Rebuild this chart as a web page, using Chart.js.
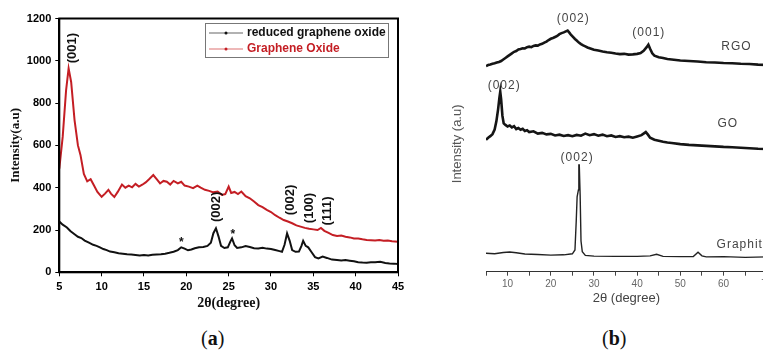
<!DOCTYPE html>
<html>
<head>
<meta charset="utf-8">
<script src="https://cdn.jsdelivr.net/npm/chart.js@4.4.0/dist/chart.umd.min.js"></script>
<style>
  html, body { margin:0; padding:0; background:#fff; width:763px; height:359px; overflow:hidden; position:relative; }
  #wrapA { position:absolute; left:0; top:0; width:420px; height:320px; }
  #wrapB { position:absolute; left:440px; top:0; width:340px; height:320px; }
  .cap { position:absolute; top:327px; font:20px "Liberation Serif", serif; color:#111; }
  .cap b { font-weight:bold; }
</style>
</head>
<body>
<div id="wrapA"><canvas id="chartA" width="420" height="320"></canvas></div>
<div id="wrapB"><canvas id="chartB" width="340" height="320"></canvas></div>
<div class="cap" style="left:201px">(<b>a</b>)</div>
<div class="cap" style="left:602px">(<b>b</b>)</div>
<script>
/* ── PANEL (a) DATA ── */
const angleRGO = [5.0,5.4,5.9,6.3,6.8,7.2,7.6,8.0,8.5,9.0,9.4,9.8,10.2,10.6,11.0,11.5,12.0,12.5,13.0,13.5,14.0,14.5,15.0,15.5,16.0,16.5,17.0,17.5,18.0,18.5,19.0,19.4,19.8,20.2,20.6,21.0,21.5,22.0,22.5,22.9,23.2,23.5,23.8,24.1,24.5,24.9,25.2,25.4,25.7,26.0,26.5,27.0,27.5,28.0,28.5,29.0,29.5,30.0,30.5,31.0,31.3,31.6,31.9,32.2,32.5,32.9,33.3,33.6,33.8,34.1,34.4,34.8,35.2,35.6,36.1,36.6,37.2,37.8,38.3,38.8,39.3,39.8,40.3,40.8,41.3,41.8,42.3,42.9,43.5,44.0,44.5,45.0];
const intRGO   = [240,225,212,195,180,168,162,150,140,130,125,118,110,105,98,95,90,88,85,84,82,80,82,80,83,84,85,88,92,97,105,118,112,104,108,114,118,120,125,140,185,208,170,125,115,118,145,160,128,115,118,124,120,114,113,116,112,110,105,100,97,130,184,150,105,97,98,125,149,125,118,95,72,66,74,68,60,58,56,58,55,52,48,46,45,47,48,50,44,42,41,39];

const angleGO = [5.0,5.4,5.8,6.1,6.4,6.8,7.2,7.5,7.9,8.3,8.7,9.1,9.5,10.0,10.4,10.8,11.1,11.5,11.9,12.4,12.8,13.2,13.6,14.0,14.4,14.8,15.2,15.6,16.1,16.5,16.9,17.3,17.7,18.1,18.5,19.0,19.4,19.8,20.3,20.8,21.3,21.7,22.2,22.7,23.2,23.7,24.2,24.6,25.0,25.3,25.7,26.1,26.5,27.0,27.5,28.0,28.5,29.0,29.5,30.0,30.5,31.0,31.5,32.0,32.5,33.0,33.5,34.0,34.5,35.0,35.5,35.9,36.3,36.8,37.3,37.8,38.3,38.8,39.3,39.8,40.3,40.8,41.3,41.8,42.3,42.8,43.3,43.8,44.3,45.0];
const intGO   = [490,640,860,964,900,720,600,555,465,430,440,410,380,357,372,390,372,356,380,415,400,410,402,418,405,414,425,440,460,440,420,432,428,415,432,420,428,410,405,398,410,400,390,385,378,382,366,370,405,375,380,370,382,360,350,335,318,308,295,285,270,258,247,240,232,222,216,210,206,203,200,210,196,186,176,172,174,168,165,160,160,156,153,152,150,153,149,150,147,145];

const seriesNamesA = ["reduced graphene oxide", "Graphene Oxide"];
const peakLabelsA  = [["(001)",6.5,1060],["(002)",23.6,309],["(002)",32.3,342],["(100)",34.5,304],["(111)",36.7,290]];
const starLabelsA  = [["*",19.4,152],["*",25.5,191]];

/* ── PANEL (b) DATA ── */
const angleRGOb = [5.0,5.5,6.0,6.5,7.0,7.5,8.0,8.5,9.0,9.5,10.0,10.5,11.0,11.5,12.0,12.5,13.0,13.5,14.0,14.5,15.0,15.5,16.0,16.5,17.0,17.5,18.0,18.5,19.0,19.5,20.0,20.5,21.0,21.5,22.0,22.5,23.0,23.5,23.9,24.3,24.7,25.2,25.6,26.0,26.5,27.0,27.5,28.0,28.5,29.0,29.5,30.0,31.0,32.0,33.0,34.0,35.0,36.0,37.0,38.0,39.0,40.0,40.8,41.5,42.2,42.6,43.0,43.5,44.0,45.0,46.0,47.0,48.0,49.0,50.0,52.0,54.0,56.0,58.0,60.0,62.0,64.0,66.0,68.0,70.0];
const intRGOb   = [80.4,80.8,81.0,81.3,81.5,81.8,82.0,82.4,83.0,83.6,84.2,84.8,85.4,86.0,86.3,86.9,87.1,87.4,87.3,87.8,88.0,87.8,88.3,88.5,88.4,88.9,89.1,89.6,90.0,90.6,91.1,91.4,91.8,92.2,92.9,93.3,93.6,94.0,94.3,93.5,92.6,91.7,91.0,90.4,89.6,89.0,88.5,88.1,87.7,87.4,87.1,86.8,86.5,86.1,85.8,85.6,85.3,85.1,85.2,84.9,85.0,85.2,85.5,86.4,87.8,88.8,87.2,85.4,84.5,83.9,83.6,83.2,83.0,82.8,82.6,82.4,82.2,81.9,81.8,81.6,81.5,81.3,81.2,81.0,80.9];

const angleGOb = [5.0,5.5,6.0,6.5,7.0,7.4,7.8,8.1,8.3,8.5,8.8,9.1,9.5,10.0,10.5,11.0,11.5,12.0,12.5,13.0,13.5,14.0,14.5,15.0,16.0,17.0,18.0,19.0,20.0,21.0,22.0,23.0,24.0,25.0,26.0,27.0,28.0,29.0,30.0,31.0,32.0,33.0,34.0,35.0,36.0,37.0,38.0,39.0,40.0,41.0,42.0,42.5,43.0,44.0,45.0,46.0,47.0,48.0,50.0,52.0,54.0,56.0,58.0,60.0,62.0,64.0,66.0,68.0,70.0];
const intGOb   = [51.6,52.4,53.0,53.8,55.6,58.8,63.5,68.0,70.4,67.5,61.0,58.0,57.4,56.8,57.2,56.4,56.9,55.8,56.2,55.5,55.9,55.0,55.3,54.6,54.9,54.0,54.3,53.7,53.9,53.3,53.6,53.1,53.4,53.0,53.5,53.2,54.0,53.4,53.8,53.2,53.6,53.0,53.3,52.7,53.0,52.6,52.8,52.4,52.9,53.4,54.6,53.6,52.4,51.6,51.2,50.8,50.5,50.3,49.9,49.6,49.4,49.2,49.0,48.8,48.7,48.5,48.3,48.1,48.0];

const angleGraphite = [5,7,9,10.5,12,14,17,20,23,25,25.6,25.9,26.1,26.4,26.5,26.6,26.8,27.0,27.3,28,30,35,40,43,44.5,46,50,53,54.1,55,56,60,65,70];
const intGraphite   = [7.2,7.0,7.5,7.7,7.4,6.9,6.7,6.5,6.6,7.0,8.5,20,29.3,32,41.7,41.7,30,12,7.8,6.4,6.1,6.0,6.0,6.2,6.8,6.0,5.9,5.9,7.6,6.2,5.8,5.9,5.6,5.8];

const textLabelsB = [["(002)",25.2,98.8,"center"],["(001)",42.7,93.4,"center"],["RGO",63.0,87.9,"center"],
                     ["(002)",9.2,72.6,"center"],["GO",61.0,57.8,"center"],
                     ["(002)",26.1,44.5,"center"],["Graphite",58.4,10.4,"left"]];

const pts = (xs, ys) => xs.map((x, i) => ({ x, y: ys[i] }));
const SANS = "Arial, 'Liberation Sans', sans-serif";
const SERIF = "'Liberation Serif', 'Times New Roman', serif";

/* ── PLUGINS ── */
const frameA = {
  id: "frameA",
  afterDatasetsDraw(chart) {
    const { ctx, chartArea: a, scales: { x, y } } = chart;
    ctx.save();
    ctx.strokeStyle = "#000"; ctx.lineWidth = 2;
    ctx.strokeRect(a.left, a.top, a.right - a.left, a.bottom - a.top);

    // peak labels, rotated
    ctx.fillStyle = "#111";
    ctx.font = "bold 13px " + SANS;
    ctx.textAlign = "center"; ctx.textBaseline = "middle";
    peakLabelsA.forEach(([t, px, py]) => {
      ctx.save();
      ctx.translate(x.getPixelForValue(px), y.getPixelForValue(py));
      ctx.rotate(-Math.PI / 2);
      ctx.fillText(t, 0, 0);
      ctx.restore();
    });
    ctx.font = "bold 12px " + SANS;
    starLabelsA.forEach(([t, px, py]) => ctx.fillText(t, x.getPixelForValue(px), y.getPixelForValue(py) + 3));

    // legend box
    const lx = 205, ly = 23, lw = 183, lh = 34;
    ctx.lineWidth = 1; ctx.strokeStyle = "#777";
    ctx.strokeRect(lx + 0.5, ly + 0.5, lw, lh);
    const rows = [{ c: "#111", l: "#999", y: ly + 10 }, { c: "#c41e24", l: "#e8a0a0", y: ly + 26 }];
    rows.forEach((r, i) => {
      ctx.strokeStyle = r.l; ctx.lineWidth = 1.5;
      ctx.beginPath(); ctx.moveTo(lx + 4, r.y); ctx.lineTo(lx + 38, r.y); ctx.stroke();
      ctx.fillStyle = r.c;
      ctx.beginPath(); ctx.arc(lx + 21, r.y, 1.5, 0, Math.PI * 2); ctx.fill();
      ctx.font = "bold 12px " + SANS;
      ctx.textAlign = "left";
      ctx.fillText(seriesNamesA[i], lx + 42, r.y);
    });
    ctx.restore();
  }
};

const labelsB = {
  id: "labelsB",
  afterDatasetsDraw(chart) {
    const { ctx, scales: { x, y } } = chart;
    ctx.save();
    ctx.fillStyle = "#444";
    ctx.font = "12px " + SANS;
    ctx.letterSpacing = "1px";
    ctx.textBaseline = "middle";
    textLabelsB.forEach(([t, px, py, al]) => {
      ctx.textAlign = al;
      ctx.fillText(t, x.getPixelForValue(px), y.getPixelForValue(py));
    });
    ctx.restore();
  }
};

/* ── CHART (a) ── */
new Chart(document.getElementById("chartA"), {
  type: "line",
  data: {
    datasets: [
      { label: seriesNamesA[0], data: pts(angleRGO, intRGO), borderColor: "#111", borderWidth: 2 },
      { label: seriesNamesA[1], data: pts(angleGO, intGO), borderColor: "#c41e24", borderWidth: 2 }
    ]
  },
  options: {
    responsive: false, animation: false,
    layout: { padding: { top: 18.5, right: 22, left: 0, bottom: 0 } },
    elements: { point: { radius: 0 }, line: { tension: 0 } },
    plugins: { legend: { display: false }, tooltip: { enabled: false } },
    scales: {
      x: {
        type: "linear", min: 5, max: 45,
        ticks: { stepSize: 5, color: "#000", padding: 4, font: { family: SANS, weight: "bold", size: 11 }, callback: v => String(v) },
        grid: { drawOnChartArea: false, tickLength: 4, color: "#000" },
        border: { color: "#000", width: 2 },
        title: { display: true, text: "2θ(degree)", color: "#111", padding: { bottom: 8 }, font: { family: SERIF, weight: "bold", size: 14 } },
        afterFit: s => { s.height = 47.7; }
      },
      y: {
        min: 0, max: 1200,
        ticks: { stepSize: 200, color: "#000", padding: 4, font: { family: SANS, weight: "bold", size: 11 }, callback: v => String(v) },
        grid: { drawOnChartArea: false, tickLength: 4, color: "#000" },
        border: { color: "#000", width: 2 },
        title: { display: true, text: "Intensity(a.u)", color: "#111", padding: { top: 8 }, font: { family: SERIF, weight: "bold", size: 13 } },
        afterFit: s => { s.width = 59.3; }
      }
    }
  },
  plugins: [frameA]
});

/* ── CHART (b) ── */
new Chart(document.getElementById("chartB"), {
  type: "line",
  data: {
    datasets: [
      { label: "RGO", data: pts(angleRGOb, intRGOb), borderColor: "#151515", borderWidth: 2.6 },
      { label: "GO", data: pts(angleGOb, intGOb), borderColor: "#151515", borderWidth: 2.6 },
      { label: "Graphite", data: pts(angleGraphite, intGraphite), borderColor: "#222", borderWidth: 1.4 }
    ]
  },
  options: {
    responsive: false, animation: false,
    layout: { padding: { top: 16, right: 13.3, left: 0, bottom: 0 } },
    elements: { point: { radius: 0 }, line: { tension: 0 } },
    plugins: { legend: { display: false }, tooltip: { enabled: false } },
    scales: {
      x: {
        type: "linear", min: 5, max: 70,
        ticks: { stepSize: 5, autoSkip: false, maxRotation: 0, color: "#666", padding: 3,
                 font: { family: SANS, size: 10 }, callback: v => (v % 10 === 0 ? String(v) : "") },
        grid: { drawOnChartArea: false, tickLength: 4, color: "#444" },
        border: { color: "#333", width: 1 },
        title: { display: true, text: "2θ (degree)", color: "#444", padding: { bottom: 14 }, font: { family: SANS, size: 13 } },
        afterFit: s => { s.height = 48.3; }
      },
      y: {
        min: 0, max: 100,
        ticks: { display: false },
        grid: { display: false },
        border: { display: false },
        title: { display: true, text: "Intensity (a.u)", color: "#555", padding: { top: 10 }, font: { family: SANS, size: 13 } },
        afterFit: s => { s.width = 46; }
      }
    }
  },
  plugins: [labelsB]
});
</script>
</body>
</html>
